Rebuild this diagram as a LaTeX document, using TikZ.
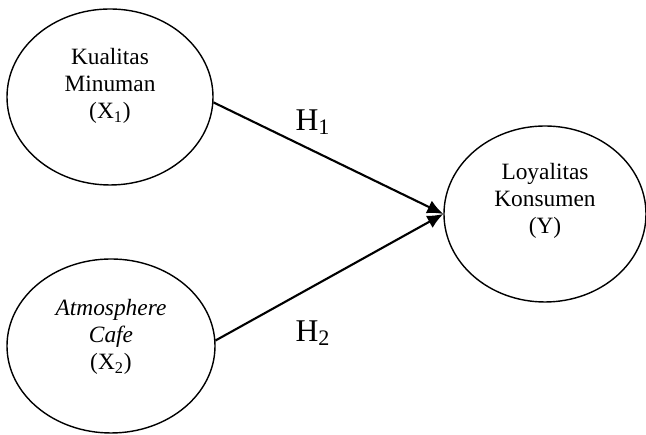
\documentclass[tikz,border=0pt]{standalone}
\usepackage{fontspec}
\setmainfont{Liberation Serif}
\usetikzlibrary{shapes.geometric,
  arrows.meta
}
\tikzset{>={Latex[length=0.32cm,width=0.28cm]}}
\tikzset{
  var/.style={draw,ellipse,line width=0.8,minimum width=4.12cm,minimum height=3.52cm,inner sep=0},
  vartext/.style={align=center,font=\fontsize{13.3}{15.2}\selectfont},
  hyp/.style={font=\fontsize{18}{20}\selectfont}
}

\begin{document}
\begin{tikzpicture}
  \useasboundingbox (0, 0) rectangle (12.92, 8.7);

  % Variables
  \node[var] (kual) at (2.2, 6.76) {};
  \node[var,minimum width=4.16cm,minimum height=3.48cm] (atmo) at (2.22, 1.78) {};
  \node[var,minimum width=4.04cm] (loy) at (10.9, 4.42) {};

  \node[vartext] (kualtxt) at ([yshift=0.22cm]kual.center) {Kualitas\\Minuman\\(X\textsubscript{1})};
  \node[vartext] (atmotxt) at ([yshift=0.18cm]atmo.center) {\textit{Atmosphere}\\\textit{Cafe}\\(X\textsubscript{2})};
  \node[vartext] (loytxt) at ([yshift=0.26cm]loy.center) {Loyalitas\\Konsumen\\(Y)};

  % Paths
  \draw[line width=1.2,->] (kual.-3) -- (loy.west);
  \draw[line width=1.2,->] (atmo.3) -- (loy.west);

  % Hypotheses
  \node[hyp] (h1) at (6.26, 6.26) {H\textsubscript{1}};
  \node[hyp] (h2) at (6.26, 2.04) {H\textsubscript{2}};
\end{tikzpicture}
\end{document}
